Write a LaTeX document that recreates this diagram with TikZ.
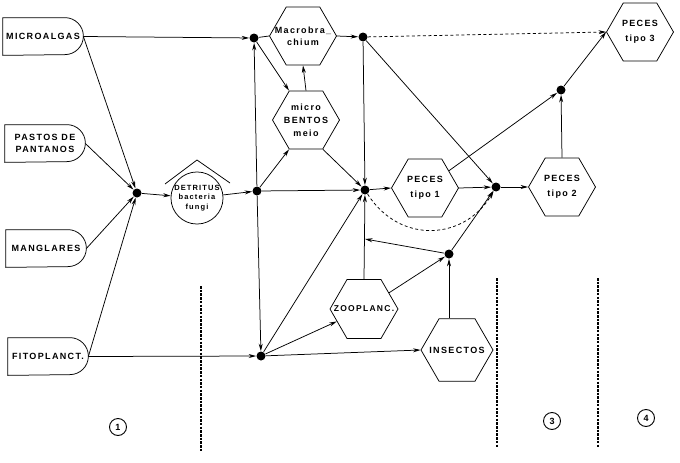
\documentclass[tikz,border=0pt]{standalone}
\usepackage{fontspec}
\setmainfont{Liberation Sans}[LetterSpace=15]
\usetikzlibrary{shapes.geometric,arrows.meta}
\newcommand\dshape[1]{\draw (#1.north west) -- ([xshift=-18.5pt]#1.north east) arc[start angle=90,end angle=-90,radius=18.5pt] -- (#1.south west) -- cycle;}
\begin{document}
\begin{tikzpicture}[x=1pt,y=-1pt,line width=0.75pt,
  every node/.style={font=\bfseries\fontsize{9}{15}\selectfont},
  src/.style={minimum width=80pt, minimum height=37pt, inner sep=0pt, align=center, font=\bfseries\fontsize{9}{12}\selectfont},
  hexa/.style={draw, regular polygon, regular polygon sides=6, minimum size=67pt, inner sep=0pt},
  htext/.style={align=center, inner sep=0pt},
  dot/.style={circle, fill, inner sep=0pt, minimum size=9pt},
  arr/.style={-{Stealth[length=7.5pt,width=4pt]}},
  divider/.style={line width=1.3pt, dash pattern=on 2.5pt off 1.2pt},
  numc/.style={circle, draw, line width=0.9pt, minimum size=17pt, inner sep=0pt, font=\bfseries\fontsize{9}{10}\selectfont}]
\useasboundingbox (0,0) rectangle (680,463);
% sources
\node[src] (mic) at (43,36.5) {MICROALGAS};
\node[src] (pas) at (45,143.5) {PASTOS DE\\PANTANOS};
\node[src] (man) at (46,248.5) {MANGLARES};
\node[src] (fit) at (48,356.5) {FITOPLANCT.};
\dshape{mic}\dshape{pas}\dshape{man}\dshape{fit}
% junctions
\node[dot] (J1) at (137,193) {};
\node[dot] (J2) at (257,191) {};
\node[dot] (J3) at (254,38) {};
\node[dot] (J4) at (363,37) {};
\node[dot] (J5) at (365,190) {};
\node[dot] (J6) at (496,187) {};
\node[dot] (J7) at (561,90) {};
\node[dot] (J8) at (261,356) {};
\node[dot] (J9) at (449,254) {};
\coordinate (aux) at (365,239);
% detritus
\node[circle, draw, minimum size=52pt, inner sep=0pt, align=center, font=\bfseries\fontsize{7.5}{9.5}\selectfont] (det) at (197,198) {DETRITUS\\bacteria\\fungi};
\draw (165,184) -- (197,160) -- (230,183);
% hexagons
\node[hexa] (mac) at (303,36) {};
\node[htext] (tmac) at (mac.center) {Macrobra\_\\[-3pt]chium};
\node[hexa] (ben) at (306,120) {};
\node[htext] (tben) at (ben.center) {micro\\[-2pt]BENTOS\\[-2pt]meio};
\node[hexa] (p1) at (425,188) {};
\node[htext] (tp1) at (p1.center) {PECES\\tipo 1};
\node[hexa] (p2) at (562,187) {};
\node[htext] (tp2) at (p2.center) {PECES\\tipo 2};
\node[hexa] (p3) at (640,32) {};
\node[htext] (tp3) at (p3.center) {PECES\\tipo 3};
\node[hexa, minimum size=68pt] (zoo) at (364,309) {};
\node[htext, font=\bfseries\fontsize{8.5}{10}\selectfont] (tzoo) at (zoo.center) {ZOOPLANC.};
\node[hexa, minimum size=72pt] (ins) at (457,350) {};
\node[htext] (tins) at (ins.center) {INSECTOS};
% connectors
\draw[arr] (mic.east) -- (J3);
\draw[arr] (mic.east) -- (J1);
\draw[arr] (pas.east) -- (J1);
\draw[arr] (man.east) -- (J1);
\draw[arr] (fit.east) -- (J1);
\draw[arr] (fit.east) -- (J8);
\draw[arr] (J1) -- (det);
\draw[arr] (det) -- (J2);
\draw[arr] (J2) -- (J3);
\draw[arr] (J2) -- (J8);
\draw (J3) -- (mac.west);
\draw[arr] (J3) -- (ben.120);
\draw[arr] (ben.north) -- (mac.south);
\draw[arr] (mac.east) -- (J4);
\draw[arr] (J2) -- (ben.240);
\draw[arr] (ben.300) -- (J5);
\draw[arr] (J2) -- (J5);
\draw[arr] (J4) -- (J5);
\draw[arr] (J4) -- (J6);
\draw[arr, dash pattern=on 3pt off 2.5pt] (J4) -- (p3.west);
\draw[arr] (J5) -- (p1.west);
\draw[arr, dash pattern=on 3pt off 2.5pt] (J5) .. controls (400,245) and (465,240) .. (J6);
\draw[arr] (p1.east) -- (J6);
\draw[arr] (p1) -- (J7);
\draw[arr] (J6) -- (p2.west);
\draw[arr] (p2.north) -- (J7);
\draw[arr] (J7) -- (p3.west);
\draw[arr] (J8) -- (J5);
\draw[arr] (J8) -- (zoo);
\draw[arr] (J8) -- (ins.west);
\draw[arr] (zoo.north) -- (J5);
\draw[arr] (zoo) -- (J9);
\draw[arr] (J9 |- ins.north) -- (J9);
\draw[arr] (J9) -- (aux);
\draw[arr] (J9) -- (J6);
% dividers
\draw[divider] (201,286) -- (201,452);
\draw[divider] (497,278) -- (497,448);
\draw[divider] (598,278) -- (598,447);
% circled numbers
\node[numc] (c1) at (118,427) {1};
\node[numc] (c3) at (552,421) {3};
\node[numc] (c4) at (646,418) {4};
\end{tikzpicture}
\end{document}
